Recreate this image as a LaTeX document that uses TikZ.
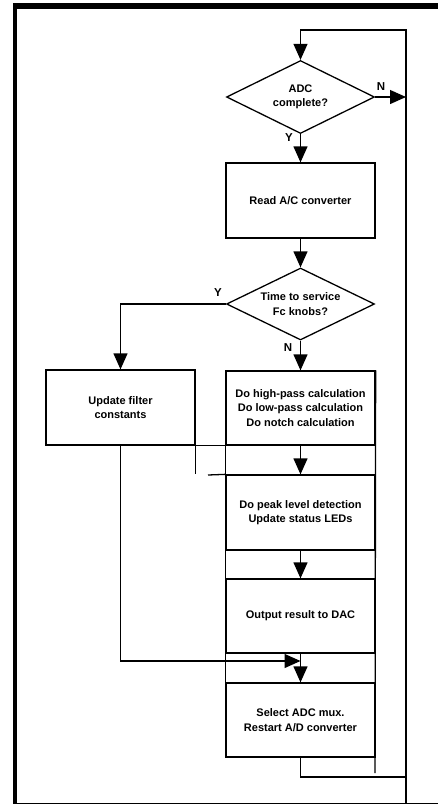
\documentclass[tikz,border=0pt]{standalone}
\usepackage{fontspec}
\setmainfont{Liberation Sans}
\usetikzlibrary{shapes.geometric,arrows.meta}
\begin{document}
\begin{tikzpicture}[x=1pt,y=-1pt,
  txt/.style={font=\fontsize{11}{14.5}\selectfont\bfseries},
  box/.style={txt,draw,line width=1.3pt,minimum width=149pt,minimum height=74pt,align=center,inner sep=0pt},
  dec/.style={txt,draw,diamond,line width=1.3pt,aspect=2,minimum width=148pt,minimum height=73pt,align=center,inner sep=0pt},
  flow/.style={line width=1.3pt,-{Triangle[length=16pt,width=14pt]}},
  wire/.style={line width=1.3pt},
  lab/.style={font=\fontsize{11.5}{14}\selectfont\bfseries,inner sep=1pt}]
\useasboundingbox (0,0) rectangle (438,804);
% frame
\draw[line width=3.5pt] (15,3) -- (15,804);
\draw[line width=6pt] (13,6) -- (438,6);
\draw[line width=1pt] (13,803) -- (438,803);
% nodes
\node[dec] (d1) at (300.5,97) {ADC\\complete?};
\node[box,minimum height=75pt] (read) at (300.5,200.5) {Read A/C converter};
\node[dec,minimum height=72pt] (d2) at (300.5,304) {Time to service\\Fc knobs?};
\node[box,minimum height=75pt] (upd) at (120.5,407.5) {Update filter\\constants};
\node[box] (calc) at (300.5,408) {Do high-pass calculation\\Do low-pass calculation\\Do notch calculation};
\node[box,minimum height=75pt] (peak) at (300.5,512.5) {Do peak level detection\\Update status LEDs};
\node[box] (out) at (300.5,616) {Output result to DAC};
\node[box] (sel) at (300.5,720) {Select ADC mux.\\Restart A/D converter};
% coordinates
\coordinate (lb) at (406,777);
\coordinate (lt) at (406,30);
\coordinate (lend) at (406,804);
\coordinate (colend) at (375,773);
\coordinate (stub) at (208,475);
\coordinate (m) at (300.5,661);
% column lines
\draw[wire] (calc.north west) -- (sel.south west);
\draw[wire] (calc.north east) -- (colend);
\draw[wire] (upd.south east) -- (calc.south east);
\draw[wire] (upd.south east) -- (upd.south east |- peak.north);
\draw[wire] (stub) -- (peak.north west);
% connectors
\draw[flow] (sel.south) |- (lb) -- (lt) -| (d1.north);
\draw[wire] (lb) -- (lend);
\draw[flow] (d1.east) -- (d1.east -| lt);
\draw[flow] (d1.south) -- (read.north);
\draw[flow] (read.south) -- (d2.north);
\draw[flow] (d2.west) -| (upd.north);
\draw[flow] (d2.south) -- (calc.north);
\draw[flow] (calc.south) -- (peak.north);
\draw[flow] (peak.south) -- (out.north);
\draw[flow] (out.south) -- (sel.north);
\draw[flow] (upd.south) |- (m);
% labels
\node[lab] (n1) at (381,87) {N};
\node[lab] (y1) at (289,138) {Y};
\node[lab] (y2) at (218,293) {Y};
\node[lab] (n2) at (288,348) {N};
\end{tikzpicture}
\end{document}
